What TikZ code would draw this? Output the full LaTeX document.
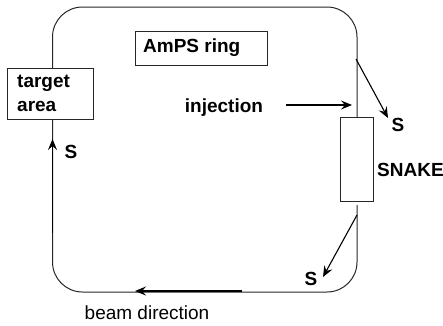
\documentclass[tikz,border=0pt]{standalone}
\usepackage{fontspec}
\setmainfont{Liberation Sans}
\usetikzlibrary{arrows.meta}
\begin{document}
\begin{tikzpicture}[x=1pt,y=-1pt,
  ring/.style={line width=1pt,draw=black!85,rounded corners=30pt},
  box/.style={draw=black!85,line width=1pt,rectangle,inner sep=0pt},
  lbl/.style={font=\fontsize{19}{24}\selectfont\bfseries,inner sep=0pt},
  plain/.style={font=\fontsize{19}{24}\selectfont,inner sep=0pt},
  arr/.style={line width=1.1pt,-{Stealth[length=11pt,width=9pt,inset=4pt]}}]
\useasboundingbox (0,0) rectangle (443,325);
% ring
\draw[ring] (52.5,68) -- (52.5,7) -- (357,7) -- (357,117);
\draw[ring] (357,205) -- (357,292) -- (52.5,292) -- (52.5,119);
% boxes
\node[box,minimum width=86pt,minimum height=51pt] (target) at (50,93.5) {};
\node[lbl,anchor=base west,align=left] (targett) at (17,111) {target\\area};
\node[box,minimum width=132pt,minimum height=34pt] (amps) at (201,48) {};
\node[lbl,anchor=base west] (ampst) at (143,52) {AmPS ring};
\node[box,fill=white,minimum width=33pt,minimum height=84pt] (snake) at (356.5,159) {};
\node[lbl,anchor=base west] (snaket) at (377,176) {SNAKE};
% labels
\node[lbl,anchor=base] (inj) at (224,112) {injection};
\node[lbl,anchor=base] (s1) at (398,131) {S};
\node[lbl,anchor=base] (s2) at (311,285) {S};
\node[lbl,anchor=base] (s3) at (71,158) {S};
\node[plain,anchor=base] (beam) at (147,319) {beam direction};
% coordinates
\coordinate (a1) at (356,59);
\coordinate (a1e) at (388,118);
\coordinate (a2) at (357,215);
\coordinate (a2e) at (323,277);
\coordinate (ij) at (286,105);
\coordinate (ije) at (352,105);
\coordinate (bm) at (242,291);
\coordinate (bme) at (135,291);
\coordinate (lf) at (52.5,233);
\coordinate (lfe) at (52.5,139);
% arrows
\draw[arr] (a1) -- (a1e);
\draw[arr] (a2) -- (a2e);
\draw[arr] (ij) -- (ije);
\draw[arr] (bm) -- (bme);
\draw[arr] (lf) -- (lfe);
\end{tikzpicture}
\end{document}
